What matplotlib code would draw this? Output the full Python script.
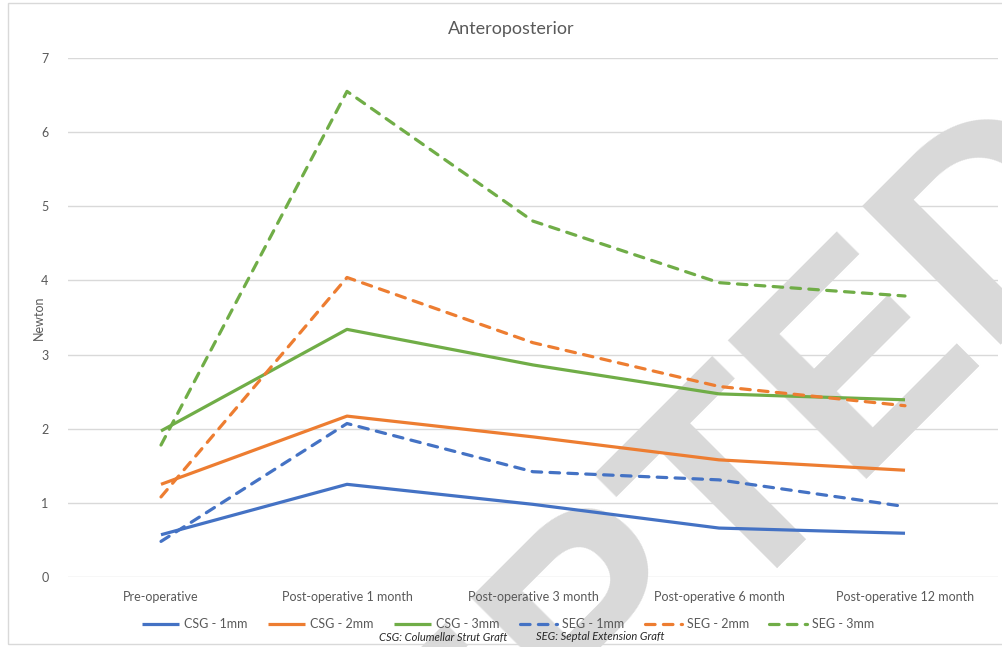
import numpy as np
import matplotlib.pyplot as plt
from matplotlib.patches import Rectangle

plt.rcParams['font.family'] = ['Lato', 'DejaVu Sans']

etapas = ['Pre-operative', 'Post-operative 1 month', 'Post-operative 3 month',
          'Post-operative 6 month', 'Post-operative 12 month']

csg_1mm = [0.57, 1.25, 0.98, 0.66, 0.59]
csg_2mm = [1.25, 2.17, 1.89, 1.58, 1.44]
csg_3mm = [1.97, 3.34, 2.86, 2.47, 2.39]
seg_1mm = [0.48, 2.07, 1.42, 1.31, 0.95]
seg_2mm = [1.08, 4.04, 3.16, 2.57, 2.31]
seg_3mm = [1.78, 6.55, 4.80, 3.97, 3.79]

azul = '#4472C4'
naranja = '#ED7D31'
verde = '#70AD47'
gris_txt = '#595959'
gris_grid = '#D9D9D9'

W, H = 1002, 647
fig = plt.figure(figsize=(W/100, H/100), dpi=100)
ax = fig.add_axes([68/W, 1 - 577/H, 930/W, 519/H])

x = np.arange(len(etapas))
lw = 2.3
dash = (3.0, 2.6)

series = [
    ('CSG - 1mm', csg_1mm, azul, '-'),
    ('CSG - 2mm', csg_2mm, naranja, '-'),
    ('CSG - 3mm', csg_3mm, verde, '-'),
    ('SEG - 1mm', seg_1mm, azul, '--'),
    ('SEG - 2mm', seg_2mm, naranja, '--'),
    ('SEG - 3mm', seg_3mm, verde, '--'),
]

handles = []
for nombre, y, c, ls in series:
    if ls == '--':
        l, = ax.plot(x, y, color=c, lw=lw, dashes=dash, dash_capstyle='round',
                     solid_joinstyle='round', zorder=3, label=nombre)
    else:
        l, = ax.plot(x, y, color=c, lw=lw, solid_capstyle='butt',
                     solid_joinstyle='round', zorder=3, label=nombre)
    handles.append(l)

ax.set_xlim(-0.5, len(etapas) - 0.5)
ax.set_ylim(0, 7)
ax.set_yticks(range(0, 8))
ax.set_xticks(x)
ax.set_xticklabels(etapas)
ax.grid(axis='y', color=gris_grid, lw=1)
ax.set_axisbelow('line')
for s in ax.spines.values():
    s.set_visible(False)
ax.tick_params(length=0, colors=gris_txt, labelsize=9)
ax.tick_params(axis='y', pad=14)
ax.tick_params(axis='x', pad=10)
ax.set_ylabel('Newton', color=gris_txt, fontsize=9, labelpad=-3)

fig.text(511/W, 1 - 29/H, 'Anteroposterior', ha='center', va='center',
         fontsize=13, color=gris_txt)

# marca de agua diagonal, debajo de las curvas
ax.text(578/W, 1 - 760/H, 'ACCEPTED', transform=fig.transFigure,
        rotation=45, rotation_mode='anchor', ha='center', va='baseline',
        fontsize=205, family='Liberation Sans', weight='bold', color='#D9D9D9',
        clip_on=False, zorder=1)

leg = fig.legend(handles=handles, loc='center', bbox_to_anchor=(508/W, 1 - 624/H),
                 ncol=6, frameon=False, handlelength=3.0, columnspacing=1.6,
                 handletextpad=0.4, fontsize=9)
for t in leg.get_texts():
    t.set_color(gris_txt)

fig.text(443/W, 1 - 637/H, 'CSG: Columellar Strut Graft', ha='center', va='center',
         fontsize=8, style='italic', color='#262626')
fig.text(600/W, 1 - 637/H, 'SEG: Septal Extension Graft', ha='center', va='center',
         fontsize=8, style='italic', color='#262626')

fig.patches.append(Rectangle((8/W, 3/H), 1.0, 641/H, transform=fig.transFigure,
                             fill=False, ec=gris_grid, lw=1))

fig.savefig('out.png', dpi=100)
